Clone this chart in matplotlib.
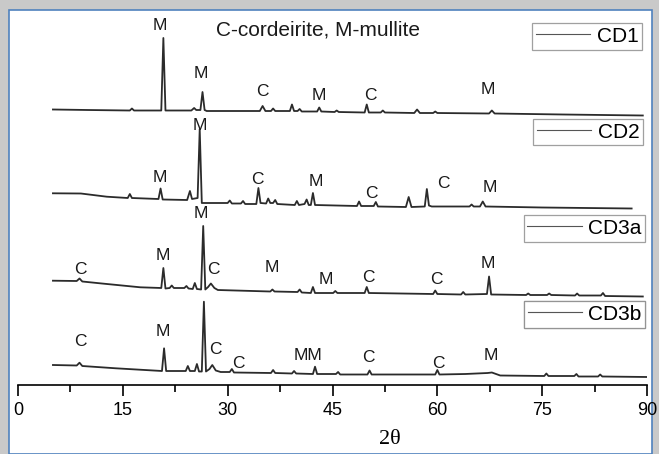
import matplotlib
matplotlib.use("Agg")
import matplotlib.pyplot as plt
from matplotlib.patches import Rectangle
from matplotlib.lines import Line2D

# XRD patterns, stacked (2theta, intensity a.u. with offset)
cd1_2theta = [5.0, 10, 16.0, 16.3, 16.6, 20.5, 20.8, 21.1, 24.8, 25.2, 25.5, 26.1, 26.4, 26.7, 27.0,
              34.6, 35.0, 35.4, 36.2, 36.5, 36.8, 38.9, 39.2, 39.5, 40.0, 40.3, 40.6, 42.8, 43.1, 43.4,
              45.3, 45.6, 45.9, 49.6, 49.9, 50.2, 51.9, 52.2, 52.5, 56.7, 57.1, 57.5, 59.4, 59.7, 60.0,
              67.4, 67.8, 68.2, 78, 89.4]
cd1_int = [275.5, 275, 274.5, 276.5, 274.5, 274.5, 347, 274.5, 274.5, 277, 275, 275, 293, 275, 274,
           274, 279, 274, 274, 276.5, 274, 274, 280.5, 274, 274, 276, 273.5, 273.5, 277.5, 273.5,
           273, 274.5, 273, 272.5, 280.5, 272.5, 272.5, 274.5, 272.5, 272, 275.5, 272, 272, 273.5, 272,
           271.5, 274.5, 271.5, 270.5, 269.5]

cd2_2theta = [5, 9, 12.7, 15.7, 16.0, 16.3, 20.1, 20.4, 20.7, 24.2, 24.6, 24.9, 25.7, 26.0, 26.3,
              30.0, 30.3, 30.6, 31.9, 32.2, 32.5, 34.1, 34.4, 34.7, 35.5, 35.8, 36.1, 36.5, 36.8, 37.1,
              39.6, 39.9, 40.2, 41.0, 41.3, 41.6, 41.9, 42.2, 42.5, 48.5, 48.8, 49.1, 50.9, 51.2, 51.5,
              55.5, 55.9, 56.3, 58.2, 58.5, 58.8, 59.2, 64.6, 64.9, 65.2, 66.1, 66.5, 66.9, 75, 87.8]
cd2_int = [191.7, 191.5, 188.3, 187, 191, 187, 186, 196.5, 185.5, 185, 194, 186, 187, 256, 182,
           182, 184.5, 181.5, 181.5, 184, 181, 181, 197, 182, 181.5, 186.5, 182, 182, 185, 181,
           180, 184, 180, 181, 185.5, 180, 180, 192, 180, 179, 183.5, 179, 179, 183, 178.5,
           178, 188, 178, 178.5, 196, 179.5, 178.5, 178.5, 180.5, 178.5, 178.5, 183.5, 178.5, 177.5, 176.5]

cd3a_2theta = [5, 8.4, 8.8, 9.2, 12, 17.5, 20.5, 20.8, 21.1, 21.7, 22.0, 22.3, 23.8, 24.1, 24.4,
               25.0, 25.3, 25.6, 26.2, 26.5, 26.8, 27.2, 27.6, 28.1, 28.6, 36.1, 36.4, 36.7,
               40.0, 40.3, 40.6, 41.9, 42.2, 42.5, 45.1, 45.4, 45.7, 49.6, 49.9, 50.2, 59.4, 59.7, 60.0,
               63.4, 63.7, 64.0, 67.1, 67.4, 67.7, 72.7, 73.0, 73.3, 75.7, 76.0, 76.3, 79.7, 80.0, 80.3,
               83.4, 83.7, 84.0, 89.4]
cd3a_int = [104.3, 104, 106.5, 103.5, 101.5, 97.7, 97, 117, 96.5, 97, 99.5, 97, 97, 99, 96.5,
            96, 102, 96, 95.5, 159, 95.5, 98, 101.5, 97, 95, 93.5, 95.5, 93.5,
            93, 95.5, 92.5, 92, 98, 92, 92, 94, 92, 92, 98, 92, 91, 94.5, 91,
            90.5, 93, 90.5, 91, 108.5, 90.5, 90, 91.5, 90, 90, 91.5, 90, 89.5, 91.5, 89.5,
            89.5, 92, 89, 88.5]

cd3b_2theta = [5, 8.4, 8.8, 9.2, 14, 20.6, 20.9, 21.2, 24.0, 24.3, 24.6, 25.3, 25.6, 25.9, 26.3, 26.6,
               26.9, 27.4, 27.8, 28.3, 29, 30.3, 30.6, 30.9, 36.2, 36.5, 36.8, 39.2, 39.5, 39.8,
               42.2, 42.5, 42.8, 45.5, 45.8, 46.1, 50.0, 50.3, 50.6, 54, 59.7, 60.0, 60.3, 64,
               67.2, 67.8, 68.4, 69, 75.3, 75.6, 75.9, 79.6, 79.9, 80.2, 83.0, 83.3, 83.6, 90]
cd3b_int = [20, 19.5, 22.3, 19, 16.7, 14, 36.7, 14, 14, 19, 14, 14, 21, 13.5, 13.5, 83.3,
            13.5, 16, 20, 14.5, 13, 13, 16, 12.5, 12, 15, 12, 11.5, 14, 11.5,
            11, 18.3, 11, 11, 13, 10.5, 10.5, 14.5, 10.5, 10.5, 10.5, 15, 10.5, 11,
            12, 12.5, 11, 9.5, 9, 11.5, 9, 9, 11, 8.5, 8.5, 10.5, 8.5, 8]

samples = ["CD1", "CD2", "CD3a", "CD3b"]

# phase labels: (text, 2theta, height)
cd1_labels = [("M", 20.3, 360), ("M", 26.2, 312), ("C", 34.9, 294), ("M", 43.1, 290),
              ("C", 50.4, 290), ("M", 67.2, 296)]
cd2_labels = [("M", 26.0, 260), ("M", 20.3, 208), ("C", 34.3, 206), ("M", 42.6, 204),
              ("C", 50.6, 192), ("C", 60.8, 202), ("M", 67.5, 197)]
cd3a_labels = [("M", 26.2, 172), ("C", 8.9, 115), ("M", 20.7, 129), ("C", 28.0, 115),
               ("M", 36.3, 117), ("M", 44.1, 105), ("C", 50.2, 107), ("C", 59.8, 106), ("M", 67.2, 121)]
cd3b_labels = [("C", 8.9, 43), ("M", 20.7, 53), ("C", 28.2, 35), ("C", 31.6, 21), ("MM", 41.5, 29),
               ("C", 50.2, 28), ("C", 60.1, 21), ("M", 67.7, 29)]

# legend box anchors (upper-right corner, figure pixels)
legend_px = [(642, 23), (643, 119), (645, 215), (645, 301)]

W, H = 659, 454
plt.rcParams['font.family'] = ['Liberation Sans', 'DejaVu Sans']
fig = plt.figure(figsize=(W / 100, H / 100), dpi=100)
fig.patch.set_facecolor('#c9c9c9')

# white card with blue border
fig.add_artist(Rectangle((9 / W, 0), (652 - 9) / W, (H - 10) / H, transform=fig.transFigure,
                         facecolor='white', edgecolor='#4f81bd', linewidth=1.2, zorder=0))

ax = fig.add_axes([18 / W, 69 / H, 629 / W, 365 / H])
ax.set_facecolor('none')

traces = [(cd1_2theta, cd1_int), (cd2_2theta, cd2_int), (cd3a_2theta, cd3a_int), (cd3b_2theta, cd3b_int)]
for x, y in traces:
    ax.plot(x, y, color='#2b2b2b', linewidth=1.3)

for labels in [cd1_labels, cd2_labels, cd3a_labels, cd3b_labels]:
    for txt, tx, ty in labels:
        ax.text(tx, ty, txt, fontsize=12.5, ha='center', va='center', color='#1a1a1a')

ax.text((318 - 18) / 629, (385 - 30) / 365, "C-cordeirite, M-mullite", transform=ax.transAxes,
        fontsize=15, ha='center', va='center', color='#1a1a1a')

# one boxed legend per pattern
for name, (px, py) in zip(samples, legend_px):
    h = Line2D([], [], color='#555555', linewidth=0.8)
    leg = ax.legend([h], [name], loc='upper right', bbox_to_anchor=(px / W, 1 - py / H),
                    bbox_transform=fig.transFigure, fontsize=15, frameon=True, fancybox=False,
                    handlelength=2.6, handletextpad=0.3, borderpad=0.18, borderaxespad=0)
    leg.get_frame().set_edgecolor('#888888')
    leg.get_frame().set_linewidth(0.9)
    ax.add_artist(leg)

ax.set_xlim(0, 90)
ax.set_ylim(0, 365)
for s in ['left', 'right', 'top']:
    ax.spines[s].set_visible(False)
ax.spines['bottom'].set_linewidth(1.2)
ax.set_xticks(range(0, 91, 15))
ax.set_xticks([7.5 + 15 * i for i in range(6)], minor=True)
ax.tick_params(axis='x', which='major', direction='out', length=8, width=1.2, labelsize=13, pad=4)
ax.tick_params(axis='x', which='minor', direction='out', length=5, width=1.2)
ax.set_yticks([])
ax.set_xlabel("2θ", fontsize=16, family=['Liberation Serif', 'DejaVu Serif'])
ax.xaxis.set_label_coords((390 - 18) / 629, -(439 - 385) / 365)
ax.xaxis.label.set_va('center')

fig.savefig("out.png", dpi=100, facecolor=fig.get_facecolor())
